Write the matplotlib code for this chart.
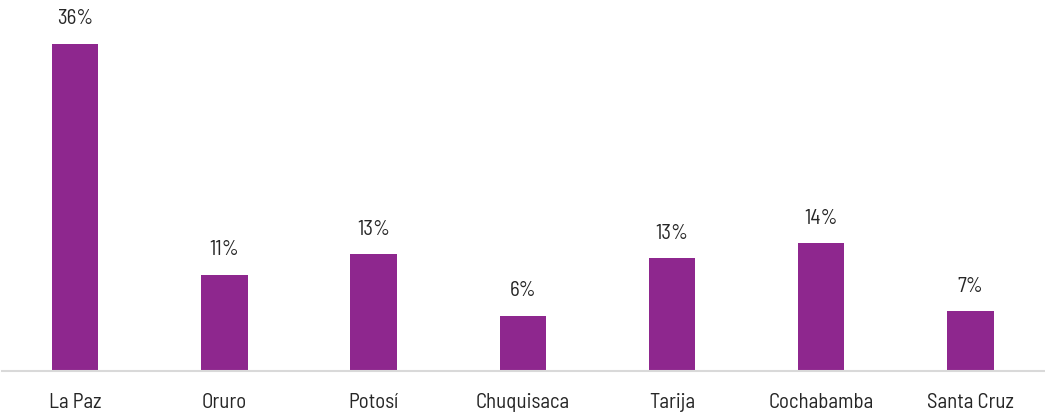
import matplotlib
matplotlib.use("Agg")
import matplotlib.pyplot as plt

# Data
departments = ["La Paz", "Oruro", "Potosí", "Chuquisaca", "Tarija", "Cochabamba", "Santa Cruz"]
shares = [36.0, 10.6, 12.9, 6.1, 12.4, 14.1, 6.6]
share_labels = ["36%", "11%", "13%", "6%", "13%", "14%", "7%"]

# condensed face first, plain ones as fallback
plt.rcParams["font.family"] = ["Barlow Semi Condensed", "Liberation Sans", "DejaVu Sans"]

bar_color = "#8E278E"
text_color = "#262626"

fig = plt.figure(figsize=(10.45, 4.17), dpi=100)
ax = fig.add_axes([0.002, 0.11, 0.998, 0.89])

x = range(len(departments))
bars = ax.bar(x, shares, width=0.31, color=bar_color, zorder=2)

for rect, lab in zip(bars, share_labels):
    ax.annotate(lab, (rect.get_x() + rect.get_width() / 2, rect.get_height()),
                xytext=(0, 11), textcoords="offset points",
                ha="center", va="bottom", fontsize=15, color=text_color)

ax.set_xlim(-0.49, 6.5)
ax.set_ylim(0, 40.8)
ax.set_xticks(list(x))
ax.set_xticklabels(departments, fontsize=15, color=text_color)
ax.tick_params(axis="x", length=0, pad=16)
ax.set_yticks([])

for side in ["top", "right", "left"]:
    ax.spines[side].set_visible(False)
ax.spines["bottom"].set_color("#D9D9D9")
ax.spines["bottom"].set_linewidth(1.5)

fig.savefig("out.png", dpi=100)
